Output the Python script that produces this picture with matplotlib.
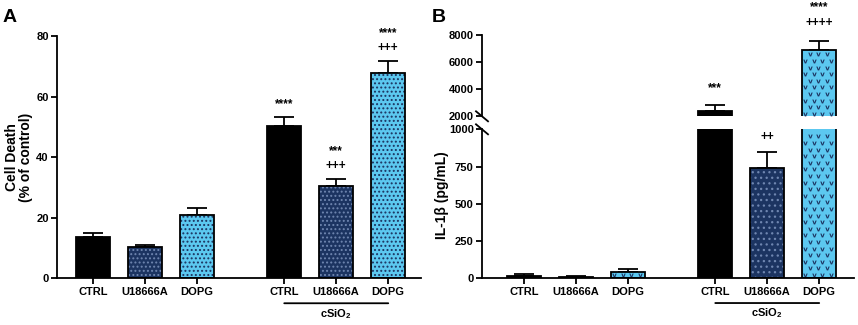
import matplotlib
matplotlib.use("Agg")
import matplotlib.pyplot as plt
import numpy as np

plt.rcParams['font.family'] = ['Liberation Sans', 'DejaVu Sans']
plt.rcParams['font.weight'] = 'bold'
plt.rcParams['mathtext.fontset'] = 'custom'
plt.rcParams['mathtext.bf'] = 'Liberation Sans:bold'
plt.rcParams['mathtext.rm'] = 'Liberation Sans:bold'
plt.rcParams['hatch.linewidth'] = 0.9

# ---- data ----
categories = ["CTRL", "U18666A", "DOPG", "CTRL", "U18666A", "DOPG"]
positions = [0, 1, 2, 3.68, 4.68, 5.68]
death_mean = [13.8, 10.4, 20.9, 50.4, 30.6, 67.7]
death_err = [1.1, 0.6, 2.2, 2.7, 2.1, 4.0]
il1b_mean = [18, 8, 45, 2390, 738, 6870]
il1b_err = [10, 5, 15, 420, 112, 690]
death_sig = ["", "", "", "****", "***\n+++", "****\n+++"]
il1b_sig = ["", "", "", "***", "++", "****\n++++"]
group_label = "cSiO$_{\\mathbf{2}}$"

face_colors = ["#000000", "#1c3461", "#5cc8f0"] * 2
hatch_colors = ["#000000", "#6f86b0", "#1c3461"] * 2
hatches_A = [None, "....", "....", None, "....", "...."]
hatches_B = [None, "...", None, None, "...", None]
vmark_B = [False, False, True, False, False, True]

W, H = 858, 325
fig = plt.figure(figsize=(W / 100, H / 100), dpi=100)

def px_axes(x0, y0, x1, y1):
    return fig.add_axes([x0 / W, (H - y1) / H, (x1 - x0) / W, (y1 - y0) / H])

LW = 1.3
BW = 0.65

def draw_bars(ax, means, errs, hatches, vmarks=None):
    for i, (p, m, e) in enumerate(zip(positions, means, errs)):
        under = ax.bar(p, m, width=BW, color=face_colors[i], edgecolor=hatch_colors[i],
                       hatch=hatches[i], linewidth=0, zorder=2)[0]
        ax.bar(p, m, width=BW, fill=False, edgecolor="black", linewidth=LW, zorder=3)
        ax.errorbar(p, m, yerr=[[0], [e]], fmt="none", ecolor="black",
                    elinewidth=LW, capsize=7, capthick=LW, zorder=1)
        if vmarks is not None and vmarks[i]:
            add_v_pattern(ax, under, p, m)

def add_v_pattern(ax, patch, p, m):
    fig.canvas.draw()
    ylo, yhi = ax.get_ylim()
    top = min(m, yhi)
    bot = max(0, ylo)
    if top <= bot:
        return
    (x0, y0) = ax.transData.transform((p - BW / 2, bot))
    (x1, y1) = ax.transData.transform((p + BW / 2, top))
    _, base = ax.transData.transform((p, 0))
    dx, dy = 8.5, 6.6
    pts = []
    r = 0
    yy = base + dy * 0.5
    while yy < y1 - 2:
        off = 0 if r % 2 == 0 else dx / 2
        xx = x0 + 3 + off
        while xx < x1 - 2:
            if yy > y0 + 2:
                pts.append((xx, yy))
            xx += dx
        yy += dy
        r += 1
    if not pts:
        return
    data = ax.transData.inverted().transform(np.array(pts))
    sc = ax.scatter(data[:, 0], data[:, 1], marker=r"$\mathsf{v}$", s=10, c="#1c3461",
                    linewidths=0, zorder=2.5)
    sc.set_clip_path(patch)
    sc.set_clip_box(ax.bbox)

def style(ax):
    for s in ["top", "right"]:
        ax.spines[s].set_visible(False)
    for s in ["left", "bottom"]:
        ax.spines[s].set_linewidth(LW)
    ax.tick_params(axis="both", width=LW, length=4, labelsize=8, pad=2)

# ---------------- Panel A ----------------
axA = px_axes(57, 36, 421, 278.3)
axA.set_xlim(-0.69, 6.31)
axA.set_ylim(0, 80)
draw_bars(axA, death_mean, death_err, hatches_A)
axA.set_yticks([0, 20, 40, 60, 80])
axA.set_xticks(positions)
axA.set_xticklabels(categories)
style(axA)
fig.text(19 / W, (H - 157) / H, "Cell Death\n(% of control)", rotation=90, ha="center",
         va="center", fontsize=10, fontweight="bold", linespacing=1.05)
for p, m, e, s in zip(positions, death_mean, death_err, death_sig):
    if s:
        axA.text(p, m + e + 2.3, s, ha="center", va="bottom", fontsize=8.5,
                 fontweight="bold", linespacing=1.3, clip_on=False)
axA.annotate("", xy=(positions[3], -0.103), xytext=(positions[5], -0.103),
             xycoords=("data", "axes fraction"), textcoords=("data", "axes fraction"),
             arrowprops=dict(arrowstyle="-", lw=1.3, color="black", shrinkA=0, shrinkB=0))
axA.text(positions[4], -0.118, group_label, transform=axA.get_xaxis_transform(),
         ha="center", va="top", fontsize=8, fontweight="bold")

# ---------------- Panel B ----------------
axBl = px_axes(482, 129.3, 854, 278.3)
axBu = px_axes(482, 34.7, 854, 116.3)
axBl.set_ylim(0, 1000)
axBu.set_ylim(2000, 8000)
for ax in (axBl, axBu):
    ax.set_xlim(-0.81, 6.35)
for ax in (axBl, axBu):
    draw_bars(ax, il1b_mean, il1b_err, hatches_B, vmark_B)
    style(ax)
axBl.set_ylim(0, 1000)
axBl.set_yticks([0, 250, 500, 750, 1000])
axBl.set_xticks(positions)
axBl.set_xticklabels(categories)
axBu.set_ylim(2000, 8000)
axBu.set_yticks([2000, 4000, 6000, 8000])
axBu.spines["bottom"].set_visible(False)
axBu.set_xticks([])

def brk(ax, yfrac, h_px):
    ax.plot([-6 / 372, 6 / 372], [yfrac + 5 / h_px, yfrac - 5 / h_px],
            transform=ax.transAxes, color="black", lw=LW, clip_on=False)
brk(axBu, 0.0, 81.6)
brk(axBl, 1.0, 149)

for p, m, e, s in zip(positions, il1b_mean, il1b_err, il1b_sig):
    if not s:
        continue
    if m + e > 1500:
        axBu.text(p, m + e + 850, s, ha="center", va="bottom", fontsize=8.5,
                  fontweight="bold", linespacing=1.45, clip_on=False)
    else:
        axBl.text(p, m + e + 55, s, ha="center", va="bottom", fontsize=8.5,
                  fontweight="bold", clip_on=False)

fig.text(442 / W, (H - 195) / H, "IL-1β (pg/mL)", rotation=90, ha="center", va="center",
         fontsize=10, fontweight="bold")

axBl.annotate("", xy=(positions[3], -0.166), xytext=(positions[5], -0.166),
              xycoords=("data", "axes fraction"), textcoords=("data", "axes fraction"),
              arrowprops=dict(arrowstyle="-", lw=1.3, color="black", shrinkA=0, shrinkB=0))
axBl.text(positions[4], -0.19, group_label, transform=axBl.get_xaxis_transform(),
          ha="center", va="top", fontsize=8, fontweight="bold")

fig.text(3 / W, (H - 22) / H, "A", fontsize=14, fontweight="bold", ha="left", va="baseline")
fig.text(432 / W, (H - 22) / H, "B", fontsize=14, fontweight="bold", ha="left", va="baseline")

fig.savefig("out.png", dpi=100)
